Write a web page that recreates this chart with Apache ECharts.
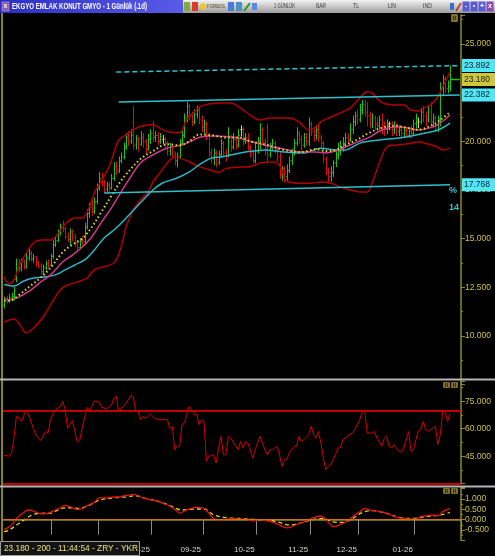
<!DOCTYPE html>
<html>
<head>
<meta charset="utf-8">
<title>EKGYO</title>
<script src="https://cdn.jsdelivr.net/npm/echarts@6.0.0/dist/echarts.min.js"></script>
<style>
  html, body { margin: 0; padding: 0; background: #000; }
  #chart { width: 495px; height: 556px; }
</style>
</head>
<body>
<div id="chart"></div>
<script>
// daily bars, 2 May 2025 .. 22 Jan 2026
const opens = [
  11.6,11.9,11.8,11.95,12.0,12.9,13.7,13.5,13.8,13.6,
  14.0,14.25,13.95,14.05,13.75,13.6,13.3,13.5,13.7,13.65,
  14.1,14.7,14.9,15.3,15.6,15.5,15.1,14.95,15.35,15.05,
  14.8,14.55,14.9,14.85,15.6,16.3,16.6,16.4,16.9,17.6,
  18.1,17.9,17.55,17.75,17.6,18.1,18.7,18.5,19.0,19.2,
  19.7,20.2,20.0,21.0,19.8,20.1,19.85,20.2,20.0,19.6,
  20.1,20.4,20.2,20.3,20.0,20.1,20.1,19.9,19.5,19.7,
  19.35,19.0,19.2,19.9,20.3,21.2,21.8,21.3,21.0,21.4,
  21.6,21.1,20.7,20.9,20.3,19.4,19.1,19.4,18.9,19.3,
  19.9,19.4,19.3,20.0,19.7,20.1,19.8,20.6,20.6,20.0,
  20.2,19.7,19.4,19.0,19.5,20.0,20.6,20.0,20.6,19.3,
  19.7,19.9,19.6,19.2,18.3,18.6,18.2,18.5,19.0,19.4,
  19.9,20.4,20.1,19.8,20.2,20.0,20.9,20.5,20.3,20.6,
  20.2,19.9,19.1,18.5,18.2,18.4,18.9,19.3,19.5,19.7,
  19.9,20.2,20.1,20.6,21.0,21.3,21.1,21.6,21.9,21.5,
  21.3,20.9,21.2,20.9,20.8,21.1,20.7,20.6,20.9,20.9,
  20.6,20.8,20.5,20.6,20.4,20.55,20.3,20.5,20.4,20.9,
  21.0,21.0,21.5,21.3,21.1,21.5,21.0,21.2,20.8,21.1,
  22.7,23.2,22.7,22.8
];
const closes = [
  11.9,11.8,11.95,12.0,12.35,13.7,13.5,13.8,13.6,14.0,
  14.25,13.95,14.05,13.75,13.6,13.3,13.5,13.7,13.65,14.1,
  14.7,14.9,15.3,15.6,15.5,15.1,14.95,15.35,15.05,14.8,
  14.55,14.9,14.85,15.6,16.3,16.6,16.4,16.9,17.6,18.1,
  17.9,17.55,17.75,17.6,18.1,18.7,18.5,19.0,19.2,19.7,
  20.2,20.0,20.3,19.8,20.1,19.85,20.2,20.0,19.6,20.1,
  20.4,20.2,20.3,20.0,20.25,20.1,19.9,19.5,19.7,19.35,
  19.0,19.2,19.9,20.3,21.2,21.8,21.3,21.0,21.4,21.6,
  21.1,20.7,20.9,20.3,19.4,19.1,19.4,18.9,19.3,19.9,
  19.4,19.3,20.0,19.7,20.1,19.8,20.3,20.6,20.0,20.2,
  19.7,19.4,19.0,19.5,20.0,20.6,20.0,19.6,19.3,19.7,
  19.9,19.6,19.2,18.3,18.6,18.2,18.5,19.0,19.4,19.9,
  20.4,20.1,19.8,20.2,20.0,20.9,20.5,20.3,20.6,20.2,
  19.9,19.1,18.5,18.2,18.4,18.9,19.3,19.5,19.7,19.9,
  20.2,20.1,20.6,21.0,21.3,21.1,21.6,21.9,21.5,21.3,
  20.9,21.2,20.9,20.8,21.1,20.7,20.6,20.9,20.9,20.6,
  20.8,20.5,20.6,20.4,20.55,20.3,20.5,20.4,20.9,21.2,
  21.0,21.5,21.3,21.1,21.5,21.0,21.2,20.8,21.1,22.7,
  23.2,22.7,22.8,23.18
];
const lows = [
  11.45,11.7,11.75,11.8,11.85,12.8,13.3,13.35,13.45,13.5,
  13.9,13.85,13.8,13.6,13.5,13.15,13.15,13.4,13.5,13.6,
  14.0,14.6,14.85,15.2,15.35,15.0,14.85,14.7,14.9,14.6,
  14.4,14.5,14.7,14.8,15.5,16.1,16.2,16.3,16.8,17.5,
  17.7,17.4,17.4,17.45,17.55,18.0,18.3,18.4,18.9,19.1,
  19.6,19.8,19.9,19.6,19.6,19.5,19.8,19.7,19.4,19.55,
  19.9,20.0,20.0,19.85,19.9,19.9,19.7,19.3,19.3,19.2,
  18.8,18.7,19.1,19.8,20.2,21.0,21.1,20.8,20.9,21.2,
  20.9,20.5,20.4,20.1,19.2,18.9,18.8,18.7,18.8,19.2,
  19.2,19.0,19.2,19.5,19.6,19.6,19.7,20.3,19.8,19.9,
  19.55,19.2,18.9,18.9,19.4,19.6,19.9,19.3,19.0,19.2,
  19.6,19.4,19.0,18.1,18.0,17.9,18.0,18.4,18.8,19.3,
  19.8,19.9,19.5,19.7,19.8,19.8,20.3,20.0,20.1,20.0,
  19.7,18.9,18.3,17.9,17.95,18.2,18.7,19.1,19.3,19.5,
  19.7,19.9,20.0,20.4,20.8,20.9,21.0,21.4,21.3,20.8,
  20.7,20.7,20.6,20.5,20.6,20.4,20.3,20.4,20.6,20.3,
  20.4,20.3,20.3,20.2,20.2,20.2,20.2,20.2,20.3,20.7,
  20.7,20.9,21.0,20.8,21.0,20.8,20.8,20.5,20.5,20.8,
  22.4,22.5,22.5,22.6
];
const highs = [
  12.0,12.05,12.15,12.2,12.5,13.95,13.9,13.95,13.9,14.3,
  14.45,14.35,14.2,14.1,13.85,13.7,13.65,13.85,13.9,14.2,
  14.9,15.1,15.45,15.75,15.9,15.6,15.3,15.5,15.45,15.2,
  14.9,15.0,15.1,15.8,16.5,16.8,17.0,17.1,17.8,18.4,
  18.35,18.0,17.9,17.9,18.3,18.9,18.95,19.2,19.4,19.9,
  20.4,20.5,20.6,21.8,20.3,20.2,20.5,20.4,20.1,20.35,
  20.6,21.0,20.5,20.45,20.4,20.3,20.2,20.0,19.9,19.8,
  19.45,19.4,20.1,20.5,21.4,22.0,21.9,21.5,21.6,21.8,
  21.7,21.3,21.1,21.0,20.4,19.6,19.6,19.5,19.5,20.1,
  20.0,19.6,20.7,20.3,20.4,20.2,20.6,20.8,20.7,20.4,
  20.4,19.8,19.5,19.9,20.2,20.9,20.7,20.1,20.9,19.9,
  20.1,20.0,19.7,19.4,18.7,18.7,18.8,19.2,19.6,20.1,
  20.7,20.5,20.3,20.4,20.4,21.2,21.0,20.6,20.8,20.9,
  20.3,20.0,19.2,18.6,18.7,19.0,19.5,19.9,20.0,20.2,
  20.4,20.4,20.9,21.3,21.5,21.6,21.9,22.1,22.1,22.0,
  21.5,21.4,21.3,21.2,21.3,21.4,21.0,21.1,21.0,21.0,
  21.0,20.9,20.8,20.7,20.7,20.7,20.7,20.8,21.1,21.4,
  21.2,21.7,21.8,21.5,21.8,22.0,21.4,21.3,21.3,23.0,
  23.4,23.3,23.1,23.85
];

// indicator lines as [bar index, value]
const bollUpper = [[0,13.03],[2,12.67],[4,12.88],[6,13.55],[9,14.26],[12,14.78],[15,14.93],[19,14.93],[21,15.09],[24,15.6],[26,15.86],[29,16.06],[32,16.06],[35,16.63],[37,17.35],[40,18.0],[43,18.68],[45,19.4],[47,20.07],[50,20.33],[53,20.6],[57,20.8],[61,20.85],[65,20.6],[69,20.45],[72,20.45],[75,21.15],[78,21.5],[80,21.76],[84,21.92],[89,21.97],[93,21.97],[97,21.71],[101,21.35],[105,21.1],[109,21.2],[113,21.2],[117,21.2],[121,21.0],[125,20.58],[128,20.74],[130,21.0],[134,21.25],[138,21.46],[142,21.71],[145,22.1],[148,22.5],[149,22.55],[151,22.48],[155,22.0],[160,21.87],[164,21.87],[167,21.6],[170,21.56],[172,21.71],[175,21.87],[178,22.28],[180,22.8],[182,23.3],[183,23.56]];
const bollLower = [[0,10.72],[4,10.88],[7,10.47],[9,10.16],[12,10.41],[16,10.98],[19,11.6],[23,12.37],[26,12.62],[30,12.78],[34,12.98],[37,13.4],[39,13.5],[45,13.75],[48,14.57],[50,15.6],[53,16.47],[56,17.0],[59,17.4],[61,17.9],[64,18.4],[67,18.9],[70,19.2],[72,19.15],[76,18.94],[80,18.7],[84,18.55],[88,18.4],[91,18.6],[97,18.68],[101,18.7],[105,18.89],[110,18.94],[112,18.89],[114,18.53],[115,18.1],[117,17.91],[121,17.85],[126,17.85],[130,17.91],[134,17.85],[138,17.66],[142,17.5],[146,17.4],[149,17.4],[151,17.86],[154,18.89],[157,19.7],[161,19.81],[165,19.86],[170,19.96],[174,19.86],[178,19.7],[180,19.55],[183,19.65]];
const maPink = [[0,11.95],[2,11.85],[6,12.0],[11,12.37],[15,12.78],[19,13.14],[24,13.8],[28,14.16],[32,14.57],[36,15.1],[40,15.86],[44,16.58],[47,17.2],[50,17.8],[56,18.9],[61,19.3],[67,19.66],[72,19.78],[76,19.97],[80,20.2],[86,20.27],[91,20.25],[97,20.15],[101,20.0],[107,19.8],[115,19.6],[122,19.45],[128,19.45],[132,19.4],[136,19.5],[140,19.71],[145,19.97],[150,20.22],[155,20.58],[161,20.74],[165,20.71],[170,20.58],[176,20.74],[179,20.94],[183,21.35]];
const maYellow = [[0,11.8],[3,11.85],[6,12.1],[11,12.6],[15,13.0],[19,13.5],[24,14.3],[28,14.7],[32,15.0],[36,15.6],[40,16.4],[44,17.2],[47,17.8],[50,18.3],[56,19.1],[61,19.5],[67,19.85],[72,19.8],[76,20.0],[80,20.35],[86,20.3],[91,20.2],[97,20.2],[101,20.0],[107,19.85],[115,19.55],[122,19.45],[128,19.6],[132,19.5],[136,19.55],[140,19.8],[145,20.1],[150,20.45],[155,20.7],[161,20.8],[165,20.7],[170,20.6],[176,20.85],[179,21.1],[183,21.5]];
const maCyan = [[0,12.65],[4,12.57],[8,12.83],[12,12.98],[16,13.03],[21,13.14],[25,13.4],[29,13.65],[33,13.91],[37,14.42],[41,15.04],[46,15.55],[57,16.99],[61,17.5],[65,17.86],[71,18.12],[76,18.43],[80,18.79],[85,19.14],[89,19.2],[93,19.3],[99,19.45],[107,19.56],[115,19.45],[123,19.4],[130,19.65],[136,19.56],[140,19.56],[146,19.91],[154,20.07],[162,20.17],[171,20.38],[178,20.58],[183,20.94]];

// hand-drawn lines on the price panel
const channelTop = [[47,22.02],[187,22.38]];
const channelBottom = [[41,17.35],[183,17.77]];
const targetLine = [[46,23.56],[187,23.89]];
const lastPrice = 23.18;
const priceTags = [
  { value: 23.892, text: '23.892', bg: '#4fe6f6' },
  { value: 23.180, text: '23.180', bg: '#cfc63a' },
  { value: 22.382, text: '22.382', bg: '#4fe6f6' },
  { value: 17.768, text: '17.768', bg: '#4fe6f6' }
];

const rsi = [[0,45.5],[2,45],[3,46.7],[4,55],[5,66.7],[6,66],[7,64],[9,70.2],[10,67.6],[12,60],[13,56.7],[15,53.5],[17,58.5],[18,57.6],[19,65],[21,70.4],[23,72],[24,75],[25,70.4],[26,60.4],[28,64.4],[29,58.5],[30,52.7],[31,53.5],[32,60.4],[33,65.8],[34,71.6],[35,69.5],[37,75],[39,74.5],[40,71.6],[42,70.9],[44,72.7],[45,76.7],[46,77.6],[47,69.5],[49,72.2],[51,75.8],[52,78.2],[53,77],[54,69.5],[55,69.5],[56,64.9],[57,66.7],[58,65.5],[60,68],[62,65.5],[64,64.9],[67,64.9],[68,60],[69,61.3],[70,48.5],[71,50.4],[72,50.4],[73,62.2],[74,63.1],[76,72.2],[77,70.4],[78,67.6],[79,68],[80,62.2],[81,64.9],[82,64],[83,42.2],[84,44.9],[86,45.8],[87,41.3],[88,49.5],[89,55.8],[90,45.8],[91,45.8],[92,55.8],[93,54.9],[95,50.4],[96,48.5],[97,53],[98,49.5],[99,53],[100,52.2],[101,48.5],[102,44],[103,48.5],[104,52.2],[105,55.8],[106,52.2],[107,48.5],[108,45.8],[109,48.5],[110,48.5],[111,49.5],[112,50.4],[113,45.8],[114,39.5],[115,43.1],[116,43.1],[117,46.7],[119,50.4],[120,50.4],[121,55.8],[122,53],[123,54],[125,56.7],[126,61.3],[127,56.7],[128,54.9],[129,58.5],[130,52.2],[131,44],[132,37.6],[133,39.5],[134,40.4],[136,45.8],[137,49.5],[138,49.5],[139,54],[141,55.8],[142,57.1],[143,57.6],[145,62.2],[146,64.9],[147,69.5],[148,69.5],[149,57.6],[151,57.6],[152,58.5],[153,54.9],[155,50.4],[156,54.9],[157,55.8],[158,50.4],[159,49.5],[160,51.3],[162,47.6],[163,47.3],[164,49.5],[166,58.5],[167,47.6],[168,48.5],[169,54],[170,58.9],[171,59.5],[172,64],[173,59.5],[174,58.5],[176,60.4],[177,61.3],[178,51.3],[179,56.7],[180,69.5],[181,69.8],[182,64],[183,68]];
const rsiLevels = [70, 30];

const macd = [[0,-0.48],[1,-0.42],[3,-0.26],[5,0.06],[8,0.35],[10,0.47],[12,0.42],[15,0.29],[17,0.29],[20,0.42],[23,0.58],[25,0.68],[27,0.63],[30,0.5],[32,0.52],[34,0.68],[37,0.84],[39,1.06],[42,1.06],[45,1.1],[47,1.1],[49,1.15],[51,1.19],[53,1.23],[55,1.16],[57,1.06],[60,0.97],[63,0.9],[65,0.79],[68,0.66],[71,0.42],[72,0.31],[74,0.42],[76,0.52],[79,0.6],[82,0.55],[84,0.31],[86,0.06],[89,-0.02],[91,0.02],[94,0.06],[97,0.03],[100,0.02],[102,-0.06],[105,0.02],[108,-0.06],[110,-0.1],[113,-0.26],[116,-0.39],[118,-0.34],[120,-0.23],[123,-0.1],[126,0.06],[128,0.15],[130,0.18],[132,0.02],[134,-0.23],[135,-0.34],[138,-0.23],[141,-0.06],[143,0.15],[146,0.39],[148,0.55],[150,0.47],[153,0.42],[156,0.35],[158,0.26],[161,0.13],[164,0.06],[167,0.03],[169,0.03],[171,0.15],[173,0.19],[176,0.23],[178,0.19],[180,0.39],[183,0.55]];
const macdSignal = [[0,-0.58],[2,-0.5],[6,-0.18],[9,0.06],[12,0.26],[15,0.31],[19,0.32],[23,0.52],[26,0.58],[31,0.55],[35,0.71],[39,0.95],[45,1.06],[50,1.11],[54,1.16],[58,1.03],[64,0.87],[69,0.63],[73,0.47],[78,0.52],[82,0.52],[86,0.23],[91,0.1],[97,0.06],[102,0.02],[108,-0.02],[113,-0.13],[117,-0.26],[121,-0.18],[127,0.02],[131,0.06],[135,-0.1],[139,-0.13],[143,0.06],[147,0.35],[151,0.44],[157,0.31],[162,0.11],[168,0.06],[173,0.15],[179,0.23],[183,0.35]];

const holidays = ['2025-05-19','2025-06-06','2025-06-09','2025-07-15','2025-10-29','2026-01-01'];
const emptySlots = 4;

function tradingDays(start, count) {
  const out = [];
  const d = new Date(start + 'T12:00:00Z');
  while (out.length < count) {
    const wd = d.getUTCDay();
    const s = d.toISOString().slice(0, 10);
    if (wd !== 0 && wd !== 6 && holidays.indexOf(s) < 0) out.push(s);
    d.setUTCDate(d.getUTCDate() + 1);
  }
  return out;
}
const dates = tradingDays('2025-05-02', closes.length);
const categories = dates.concat(new Array(emptySlots).fill(''));

function isMonthStart(idx) {
  if (idx <= 0) return false;
  const a = categories[idx], b = categories[idx - 1];
  return !!a && !!b && a.slice(5, 7) !== b.slice(5, 7);
}

const FONT = "'Liberation Sans',Arial,sans-serif";
const AXIS = '#8f8824';
const AXIS_TEXT = '#c9c04a';
const UP = '#19c419', DOWN = '#dd0c0c', FLAT = '#e2d82a';

// squeeze a text to the width it takes in the picture
const measureCtx = document.createElement('canvas').getContext('2d');
function fit(text, font, width) {
  measureCtx.font = font;
  return Math.min(1, width / measureCtx.measureText(text).width);
}

const barData = closes.map((c, i) => [i, opens[i], c, lows[i], highs[i]]);

function renderBar(params, api) {
  const i = api.value(0);
  const o = api.value(1), c = api.value(2), l = api.value(3), h = api.value(4);
  const pl = api.coord([i, l]), ph = api.coord([i, h]);
  const po = api.coord([i, o]), pc = api.coord([i, c]);
  const x = Math.round(pl[0]) + 0.5;
  const color = c > o ? UP : (c < o ? DOWN : FLAT);
  const st = { stroke: color, lineWidth: 1 };
  return {
    type: 'group',
    children: [
      { type: 'line', shape: { x1: x, y1: pl[1] + 0.5, x2: x, y2: ph[1] - 0.5 }, style: st },
      { type: 'line', shape: { x1: x - 1.2, y1: po[1], x2: x, y2: po[1] }, style: st },
      { type: 'line', shape: { x1: x, y1: pc[1], x2: x + 1.2, y2: pc[1] }, style: st }
    ]
  };
}

function line(data, color, width, opts) {
  return Object.assign({
    type: 'line', data: data, showSymbol: false, symbol: 'none', smooth: 0.35,
    xAxisIndex: 0, yAxisIndex: 0, silent: true,
    lineStyle: { color: color, width: width }
  }, opts || {});
}

function valueAxis(grid, min, max, interval, fontSize, hideAbove) {
  return {
    gridIndex: grid, type: 'value', position: 'right', min: min, max: max, interval: interval,
    axisLine: { show: true, lineStyle: { color: AXIS, width: 1.5 } },
    axisTick: { show: true, length: 4, lineStyle: { color: AXIS } },
    minorTick: { show: true, splitNumber: 2, length: 2, lineStyle: { color: AXIS } },
    splitLine: { show: false },
    axisLabel: {
      color: AXIS_TEXT, fontSize: fontSize, fontFamily: FONT, margin: 4, lineHeight: fontSize,
      showMinLabel: false, showMaxLabel: false, hideOverlap: false,
      formatter: v => (v > hideAbove ? '' : v.toFixed(3))
    }
  };
}

function hiddenCat(grid) {
  return { gridIndex: grid, type: 'category', data: categories, boundaryGap: true, show: false };
}

const option = {
  backgroundColor: '#000',
  animation: false,
  grid: [
    { left: 3, right: 34, top: 14.8, height: 369.9 },
    { left: 3, right: 34, top: 381, height: 102.7 },
    { left: 3, right: 34, top: 487.7, height: 52.7 }
  ],
  xAxis: [
    hiddenCat(0),
    hiddenCat(1),
    {
      gridIndex: 2, type: 'category', data: categories, boundaryGap: true,
      axisLine: { show: true, lineStyle: { color: AXIS, width: 1.5 } },
      axisTick: { show: true, length: 15, interval: i => isMonthStart(i), lineStyle: { color: '#8a8a8a' } },
      axisLabel: {
        show: true, interval: i => isMonthStart(i), align: 'right', padding: [0, 3, 0, 0],
        color: '#d6d6c8', fontSize: 8, fontFamily: FONT, margin: 5,
        formatter: v => v ? v.slice(5, 7) + '-' + v.slice(2, 4) : ''
      }
    }
  ],
  yAxis: [
    valueAxis(0, 7.5, 26.5, 2.5, 8.5, 25.5),
    valueAxis(1, 30, 86, 15, 8.5, 80),
    valueAxis(2, -1, 1.55, 0.5, 8.5, 1.2)
  ],
  series: [
    line(bollUpper, '#b00000', 1.5),
    line(bollLower, '#b00000', 1.5),
    line(maCyan, '#2bb6c6', 1.5, {
      markLine: {
        silent: true, symbol: 'none', label: { show: false },
        lineStyle: { color: '#2cc2cc', width: 1.5, type: 'solid' },
        data: [
          [{ coord: channelTop[0] }, { coord: channelTop[1] }],
          [{ coord: channelBottom[0] }, { coord: channelBottom[1] }],
          [{ coord: targetLine[0], lineStyle: { type: [5, 3] } }, { coord: targetLine[1] }]
        ]
      }
    }),
    {
      type: 'custom', xAxisIndex: 0, yAxisIndex: 0, silent: true,
      renderItem: renderBar, data: barData,
      encode: { x: 0, y: [1, 2, 3, 4] }, clip: true
    },
    line(maPink, '#cf3a86', 1.5),
    line(maYellow, '#e0d424', 2, { lineStyle: { color: '#e0d424', width: 2, type: [1.5, 2.5] } }),
    line([[183, lastPrice], [187, lastPrice]], UP, 1.5, { smooth: false }),
    line(rsi, '#d40000', 1, {
      xAxisIndex: 1, yAxisIndex: 1, smooth: false,
      markLine: {
        silent: true, symbol: 'none', label: { show: false },
        lineStyle: { color: '#c00000', width: 2, type: 'solid' },
        data: rsiLevels.map(v => ({ yAxis: v }))
      }
    }),
    line(macdSignal, '#e0d424', 1.3, {
      xAxisIndex: 2, yAxisIndex: 2,
      lineStyle: { color: '#e0d424', width: 1.3, type: [4, 3] },
      markLine: {
        silent: true, symbol: 'none', label: { show: false },
        lineStyle: { color: '#d27010', width: 1, type: 'solid' },
        data: [{ yAxis: 0 }]
      }
    }),
    line(macd, '#e01414', 1.3, { xAxisIndex: 2, yAxisIndex: 2 })
  ]
};

const chart = echarts.init(document.getElementById('chart'), null, { renderer: 'canvas' });
chart.setOption(option);

// window chrome and labels
function label(text, x, y, font, fill, width, z) {
  return {
    type: 'text', z: z || 101, x: x, y: y, scaleX: width ? fit(text, font, width) : 1,
    style: { text: text, fill: fill, font: font, verticalAlign: 'middle' }
  };
}
function badge(x, y, w, h) {
  return [
    { type: 'rect', z: 100, shape: { x: x, y: y, width: w, height: h, r: 1 }, style: { fill: '#7d6f2c' } },
    { type: 'text', z: 101, x: x + w / 2, y: y + h / 2, style: { text: 'II', fill: '#2a2408', font: 'bold 6px ' + FONT, align: 'center', verticalAlign: 'middle' } }
  ];
}
const titleFont = 'bold 9px ' + FONT;
const statusFont = '9px ' + FONT;
const barTexts = [['1 GÜNLÜK', 274, 21], ['BAR', 316, 10], ['TL', 353, 6], ['LIN', 388, 8], ['IND', 423, 9]];
let els = [
  { type: 'rect', z: 100, shape: { x: 0, y: 0, width: 495, height: 13 },
    style: { fill: { type: 'linear', x: 0, y: 0, x2: 0, y2: 1, colorStops: [{ offset: 0, color: '#f2f2f2' }, { offset: 1, color: '#9c9c9c' }] } } },
  { type: 'rect', z: 100, shape: { x: 0, y: 0, width: 183, height: 13 },
    style: { fill: { type: 'linear', x: 0, y: 0, x2: 1, y2: 0, colorStops: [{ offset: 0, color: '#2a2ec6' }, { offset: 1, color: '#5b5be8' }] } } },
  { type: 'rect', z: 101, shape: { x: 2, y: 2, width: 7, height: 9 }, style: { fill: '#8a5ca8', stroke: '#c8b0e0', lineWidth: 0.5 } },
  { type: 'text', z: 102, x: 5.5, y: 6.5, style: { text: 'x', fill: '#fff', font: 'bold 7px ' + FONT, align: 'center', verticalAlign: 'middle' } },
  label('EKGYO EMLAK KONUT GMYO - 1 Günlük (.1d)', 12, 6.5, titleFont, '#ffffff', 135),
  // toolbar icons
  { type: 'rect', z: 101, shape: { x: 184, y: 2, width: 6, height: 9 }, style: { fill: '#7cae3c' } },
  { type: 'rect', z: 101, shape: { x: 192, y: 2, width: 6, height: 9 }, style: { fill: '#d83c2c' } },
  { type: 'circle', z: 101, shape: { cx: 203, cy: 6.5, r: 3 }, style: { fill: '#f0c820' } },
  label('FOREKS', 207, 6.5, '5px ' + FONT, '#5a4a20', 18),
  { type: 'rect', z: 101, shape: { x: 228, y: 2, width: 6, height: 9 }, style: { fill: '#4c7ad8' } },
  { type: 'rect', z: 101, shape: { x: 236, y: 2, width: 6, height: 9 }, style: { fill: '#4a90c8' } },
  { type: 'line', z: 101, shape: { x1: 244, y1: 11, x2: 250, y2: 3 }, style: { stroke: '#2a9a2a', lineWidth: 2 } },
  { type: 'rect', z: 101, shape: { x: 252, y: 3, width: 5, height: 7 }, style: { fill: '#5a8ae0' } },
  { type: 'rect', z: 101, shape: { x: 450, y: 3, width: 4, height: 7 }, style: { fill: '#3c6ad0' } },
  { type: 'line', z: 101, shape: { x1: 456, y1: 11, x2: 461, y2: 3 }, style: { stroke: '#c03020', lineWidth: 1.5 } }
];
barTexts.forEach(t => els.push(label(t[0], t[1], 6.5, '7px ' + FONT, '#3a3a3a', t[2])));
[['-', 466, '#5a5ad2'], ['▪', 474, '#5a5ad2'], ['+', 482, '#5a5ad2'], ['x', 490, '#8a4ab0']].forEach(b => {
  els.push({ type: 'rect', z: 101, shape: { x: b[1] - 3.5, y: 1.5, width: 7, height: 10 }, style: { fill: b[2] } });
  els.push({ type: 'text', z: 102, x: b[1], y: 6.5, style: { text: b[0], fill: '#fff', font: 'bold 7px ' + FONT, align: 'center', verticalAlign: 'middle' } });
});
els = els.concat(badge(451, 14, 7, 8), badge(443, 382, 7, 6), badge(451, 382, 7, 6), badge(443, 488, 7, 6), badge(451, 488, 7, 6));
els.push(
  { type: 'rect', z: 100, shape: { x: 1, y: 13, width: 2, height: 528 }, style: { fill: '#8a8420' } },
  { type: 'rect', z: 100, shape: { x: 0, y: 378.5, width: 495, height: 2 }, style: { fill: '#b4b4b4' } },
  { type: 'rect', z: 100, shape: { x: 0, y: 485.5, width: 495, height: 2 }, style: { fill: '#b4b4b4' } },
  { type: 'rect', z: 100, shape: { x: 0.5, y: 541.5, width: 139, height: 14 }, style: { fill: '#141414', stroke: '#9c9c9c', lineWidth: 1 } },
  label('23.180 - 200 - 11:44:54 - ZRY - YKR', 4, 549, statusFont, '#ece27a', 134),
  label('%', 449, 191, 'bold 9px ' + FONT, '#2ec6d4'),
  label('14', 449, 208, 'bold 9px ' + FONT, '#2ec6d4')
);
priceTags.forEach(t => {
  const y = chart.convertToPixel({ yAxisIndex: 0 }, t.value);
  els.push({ type: 'rect', z: 110, shape: { x: 462, y: y - 6.5, width: 33, height: 13 }, style: { fill: t.bg } });
  els.push(label(t.text, 464, y, '9px ' + FONT, '#14202a', 26, 111));
});
chart.setOption({ graphic: { elements: els } });
</script>
</body>
</html>
